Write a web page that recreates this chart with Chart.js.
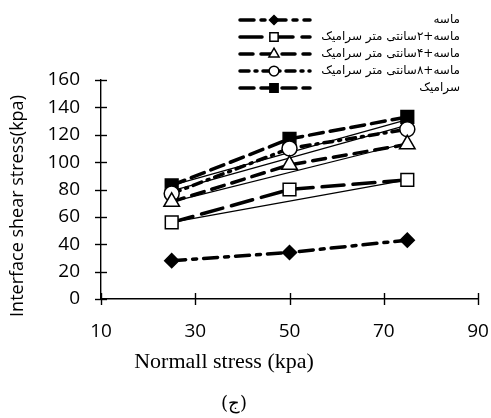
<!DOCTYPE html>
<html>
<head>
<meta charset="utf-8">
<script src="https://cdn.jsdelivr.net/npm/chart.js@4.4.1/dist/chart.umd.min.js"></script>
<style>
  html, body { margin: 0; padding: 0; background: #fff; }
  #wrap { width: 491px; height: 418px; position: relative; }
</style>
</head>
<body>
<div id="wrap"><canvas id="myChart" width="491" height="418"></canvas></div>
<script>
// normal stress (kpa) used in the shear tests
const normalStress = [25, 50, 75];

// interface shear stress (kpa)
const sand = [28, 34, 43];
const sandCer2 = [56, 80, 87];
const sandCer4 = [71, 98, 113];
const sandCer8 = [77, 110, 124];
const ceramic = [83, 117, 133];

// thin trend lines, start and end values at x = 25 and x = 75
const trendX = [25, 75];
const trendCer2 = [56, 87];
const trendCer4 = [71, 114];
const trendCer8 = [79, 127];
const trendCeramic = [83, 131];

const xTicks = [10, 30, 50, 70, 90];
const yTicks = [0, 20, 40, 60, 80, 100, 120, 140, 160];

const seriesNames = [
  'ماسه',
  'ماسه+۲سانتی متر سرامیک',
  'ماسه+۴سانتی متر سرامیک',
  'ماسه+۸سانتی متر سرامیک',
  'سرامیک'
];

const xTitle = 'Normall stress (kpa)';
const yTitle = 'Interface shear stress(kpa)';
const caption = '(ج)';

function pts(xs, ys) {
  return xs.map((x, i) => ({ x: x, y: ys[i] }));
}

function series(label, values, dash, style, radius, fill) {
  return {
    label: label,
    data: pts(normalStress, values),
    showLine: true,
    borderColor: '#000',
    borderWidth: 3.5,
    borderDash: dash,
    borderCapStyle: 'round',
    pointStyle: style,
    pointRadius: radius,
    pointHoverRadius: radius,
    pointBorderWidth: 1.5,
    pointBorderColor: '#000',
    pointBackgroundColor: fill,
    order: 1
  };
}

function trend(values) {
  return {
    label: 'trend',
    data: pts(trendX, values),
    showLine: true,
    borderColor: '#000',
    borderWidth: 1.2,
    pointRadius: 0,
    order: 2
  };
}

const mainSets = [
  series(seriesNames[0], sand, [14, 7, 4, 7], 'rectRot', 7, '#000'),
  series(seriesNames[1], sandCer2, [22, 9], 'rect', 9, '#fff'),
  series(seriesNames[2], sandCer4, [13, 8], 'triangle', 9, '#fff'),
  series(seriesNames[3], sandCer8, [9, 6, 2, 6], 'circle', 7.5, '#fff'),
  series(seriesNames[4], ceramic, [14, 7], 'rect', 9, '#000')
];

const data = {
  datasets: mainSets.concat([
    trend(trendCer2),
    trend(trendCer4),
    trend(trendCer8),
    trend(trendCeramic)
  ])
};

// ticks that cross the axis lines, titles and the legend
const decorations = {
  id: 'decorations',
  afterDraw(chart) {
    const ctx = chart.ctx;
    const a = chart.chartArea;
    const xs = chart.scales.x;
    const ys = chart.scales.y;
    ctx.save();
    ctx.setLineDash([]);
    ctx.strokeStyle = '#000';
    ctx.lineWidth = 1.4;
    yTicks.forEach(v => {
      const y = Math.round(ys.getPixelForValue(v)) + 0.5;
      ctx.beginPath();
      ctx.moveTo(a.left - 6, y);
      ctx.lineTo(a.left + 6, y);
      ctx.stroke();
    });
    xTicks.forEach(v => {
      const x = Math.round(xs.getPixelForValue(v)) + 0.5;
      ctx.beginPath();
      ctx.moveTo(x, a.bottom - 6);
      ctx.lineTo(x, a.bottom + 6);
      ctx.stroke();
    });

    ctx.fillStyle = '#000';
    ctx.textAlign = 'center';
    ctx.textBaseline = 'middle';
    ctx.font = '22px "Liberation Serif"';
    ctx.fillText(xTitle, 224, 362);
    ctx.font = '18px "DejaVu Serif"';
    ctx.fillText(caption, 234, 404);

    ctx.save();
    ctx.translate(18, 206);
    ctx.rotate(-Math.PI / 2);
    ctx.font = '18px "Open Sans"';
    ctx.fillText(yTitle, 0, 0);
    ctx.restore();

    // legend: line sample with marker, name to the right
    const rows = [20, 37, 54, 71, 88];
    mainSets.forEach((ds, i) => {
      const y = rows[i];
      ctx.save();
      ctx.lineWidth = 3.5;
      ctx.lineCap = 'round';
      ctx.setLineDash(ds.borderDash);
      ctx.beginPath();
      ctx.moveTo(240, y);
      ctx.lineTo(310, y);
      ctx.stroke();
      ctx.setLineDash([]);
      ctx.fillStyle = ds.pointBackgroundColor;
      ctx.lineWidth = 1.5;
      Chart.helpers.drawPoint(ctx, {
        pointStyle: ds.pointStyle,
        radius: ds.pointRadius * 0.65,
        rotation: 0,
        borderWidth: 1.5
      }, 274, y);
      ctx.restore();
      ctx.textAlign = 'right';
      ctx.font = '12px "DejaVu Sans"';
      ctx.fillText(ds.label, 460, y);
    });
    ctx.restore();
  }
};

const config = {
  type: 'scatter',
  data: data,
  options: {
    responsive: false,
    animation: false,
    layout: { padding: { top: 80, right: 13, left: 0, bottom: 0 } },
    plugins: {
      legend: { display: false },
      tooltip: { enabled: false }
    },
    scales: {
      x: {
        type: 'linear',
        min: 10,
        max: 90,
        afterBuildTicks: s => { s.ticks = xTicks.map(v => ({ value: v })); },
        afterFit: s => { s.height = 119; s.paddingRight = 0; s.paddingLeft = 0; },
        grid: { display: false, drawTicks: true, tickLength: 8 },
        border: { display: true, color: '#000', width: 1.4 },
        ticks: {
          color: '#000',
          padding: 13,
          maxRotation: 0,
          font: { family: 'Open Sans', size: 19 }
        }
      },
      y: {
        type: 'linear',
        min: 0,
        max: 160,
        afterBuildTicks: s => { s.ticks = yTicks.map(v => ({ value: v })); },
        afterFit: s => { s.width = 101; s.paddingTop = 0; s.paddingBottom = 0; },
        grid: { display: false, drawTicks: true, tickLength: 8 },
        border: { display: true, color: '#000', width: 1.4 },
        ticks: {
          color: '#000',
          padding: 13,
          font: { family: 'Open Sans', size: 19 }
        }
      }
    }
  },
  plugins: [decorations]
};

const myChart = new Chart(document.getElementById('myChart'), config);
</script>
</body>
</html>
